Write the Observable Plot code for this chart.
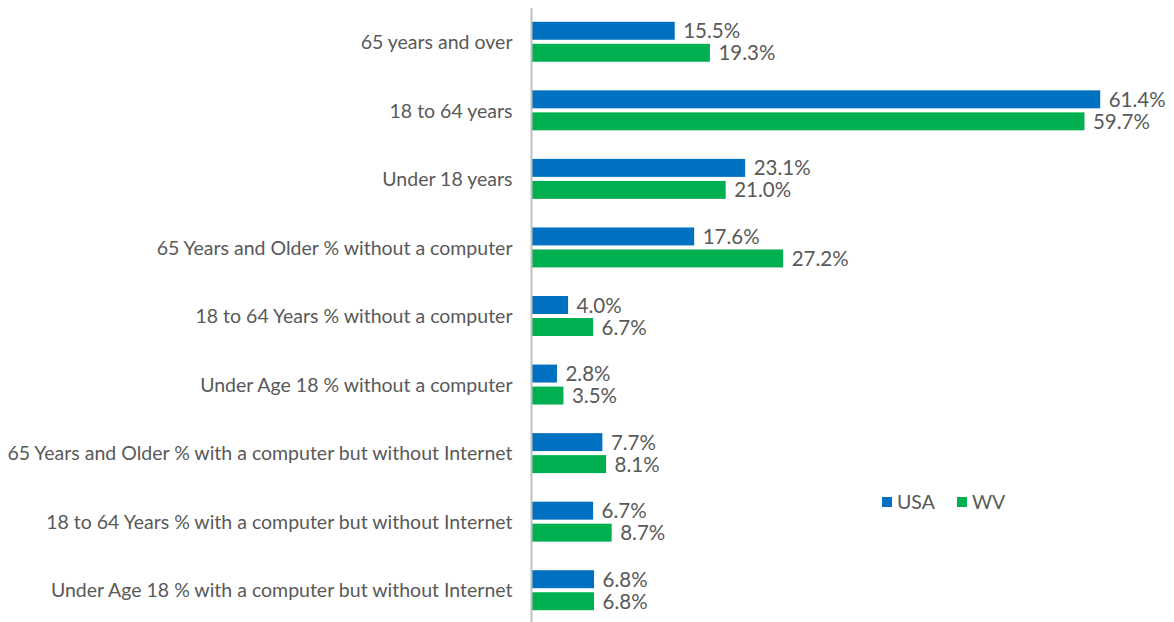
<!DOCTYPE html>
<html><head><meta charset="utf-8">
<script src="https://cdn.jsdelivr.net/npm/d3@7"></script>
<script src="https://cdn.jsdelivr.net/npm/@observablehq/plot@0.6"></script>
<style>
html,body{margin:0;padding:0;background:#fff;}
#wrap{position:relative;width:1174px;height:622px;overflow:hidden;}
#legend{position:absolute;left:882px;top:490px;font-family:Lato,"Open Sans",sans-serif;font-size:19.5px;color:#595959;display:flex;gap:22px;align-items:center;}
#legend span.sw{display:inline-block;width:10px;height:10px;margin-right:5px;vertical-align:middle;position:relative;top:-2px;}
</style>
</head><body><div id="wrap"><div id="legend"></div></div>
<script>
const categories = [
  "65 years and over",
  "18 to 64 years",
  "Under 18 years",
  "65 Years and Older % without a computer",
  "18 to 64 Years % without a computer",
  "Under Age 18 % without a computer",
  "65 Years and Older % with a computer but without Internet",
  "18 to 64 Years % with a computer but without Internet",
  "Under Age 18 % with a computer but without Internet"
];
const usa = [15.5, 61.4, 23.1, 17.6, 4.0, 2.8, 7.7, 6.7, 6.8];
const wv  = [19.3, 59.7, 21.0, 27.2, 6.7, 3.5, 8.1, 8.7, 6.8];
const seriesNames = ["USA", "WV"];
const seriesColors = ["#0070C0", "#00B050"];

const usaData = categories.map((c, i) => ({category: c, value: usa[i]}));
const wvData = categories.map((c, i) => ({category: c, value: wv[i]}));

const textColor = "#595959";
const fmt = v => v.toFixed(1) + "%";

const chart = Plot.plot({
  width: 1174,
  height: 625,
  marginLeft: 531,
  marginRight: 0,
  marginTop: 8,
  marginBottom: 0,
  style: {fontFamily: "Lato, 'Open Sans', sans-serif", fontSize: "19.5px", color: textColor, background: "white"},
  x: {domain: [0, 69.36], axis: null},
  y: {domain: categories, padding: 0, round: false, label: null, tickSize: 0, tickPadding: 19},
  marks: [
    Plot.barX(usaData, {x: "value", y: "category", fill: seriesColors[0], insetTop: 13.8, insetBottom: 36.8, insetLeft: 1}),
    Plot.barX(wvData, {x: "value", y: "category", fill: seriesColors[1], insetTop: 35.8, insetBottom: 14.8, insetLeft: 1}),
    Plot.text(usaData, {x: "value", y: "category", text: d => fmt(d.value), dx: 8, dy: -11, textAnchor: "start", fill: textColor, fontSize: 20.5}),
    Plot.text(wvData, {x: "value", y: "category", text: d => fmt(d.value), dx: 8, dy: 11, textAnchor: "start", fill: textColor, fontSize: 20.5}),
    Plot.ruleX([0], {stroke: "#BFBFBF", strokeWidth: 2}),
    Plot.axisY({tickSize: 0, tickPadding: 19, fill: textColor, fontSize: 19.5})
  ]
});
document.getElementById("wrap").prepend(chart);

const legend = document.getElementById("legend");
seriesNames.forEach((n, i) => {
  const item = document.createElement("div");
  item.innerHTML = `<span class="sw" style="background:${seriesColors[i]}"></span>${n}`;
  legend.appendChild(item);
});
</script>
</body></html>
